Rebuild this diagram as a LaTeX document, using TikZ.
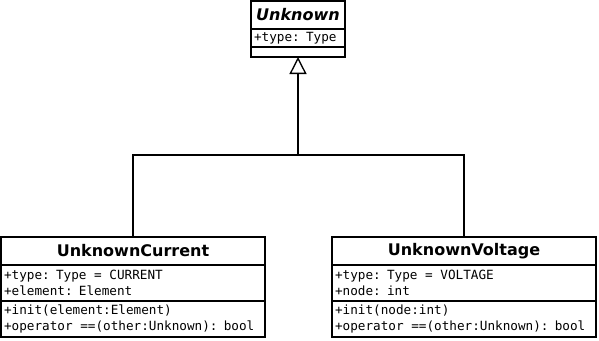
\documentclass[tikz,border=0pt]{standalone}
\usepackage{fontspec}
\usetikzlibrary{arrows.meta}
\newfontfamily\namefont{DejaVu Sans}
\setmonofont{DejaVu Sans Mono}

\tikzset{
  umlpart/.style={draw, line width=1.5pt, anchor=north west, inner xsep=2.25pt,
    inner ysep=0pt, outer sep=0pt},
  classname/.style={umlpart, text width=#1, align=center, minimum height=21pt,
    font=\namefont\bfseries\fontsize{12}{14}\selectfont},
  abstract/.style={font=\namefont\bfseries\itshape\fontsize{12}{14}\selectfont},
  % fixed-pitch spaces in the member lists
  members/.style={umlpart, text width=#1, align=left,
    font=\ttfamily\fontsize{9.5}{12}\selectfont,
    execute at begin node={\spaceskip=.602em\relax}},
  inherits/.style={line width=1.5pt,
    -{Triangle[open, length=12.75pt, width=12.75pt, line width=1pt]}},
}

\begin{document}
\begin{tikzpicture}[x=0.75pt, y=-0.75pt]
  \useasboundingbox (0,0) rectangle (599,340);

  % base class
  \node[classname=66pt, abstract] (unk) at (251,1) {Unknown};
  \node[members=66pt, minimum height=13.5pt] (unkattr) at (unk.south west) {+type: Type};
  \node[members=66pt, minimum height=7.5pt] (unkops) at (unkattr.south west) {};

  % current unknown
  \node[classname=193.5pt] (ucur) at (1,237) {UnknownCurrent};
  \node[members=193.5pt, minimum height=27pt] (ucurattr) at (ucur.south west)
    {+type: Type = CURRENT\\+element: Element};
  \node[members=193.5pt, minimum height=27pt] (ucurops) at (ucurattr.south west)
    {+init(element:Element)\\+operator ==(other:Unknown): bool};

  % voltage unknown
  \node[classname=193.5pt] (uvolt) at (332,237) {UnknownVoltage};
  \node[members=193.5pt, minimum height=27pt] (uvoltattr) at (uvolt.south west)
    {+type: Type = VOLTAGE\\+node: int};
  \node[members=193.5pt, minimum height=27pt] (uvoltops) at (uvoltattr.south west)
    {+init(node:int)\\+operator ==(other:Unknown): bool};

  % generalisation
  \coordinate (split) at (298,155);
  \draw[inherits] (ucur.north) |- (split) -- (unkops.south);
  \draw[line width=1.5pt] (uvolt.north) |- (split);
\end{tikzpicture}
\end{document}
